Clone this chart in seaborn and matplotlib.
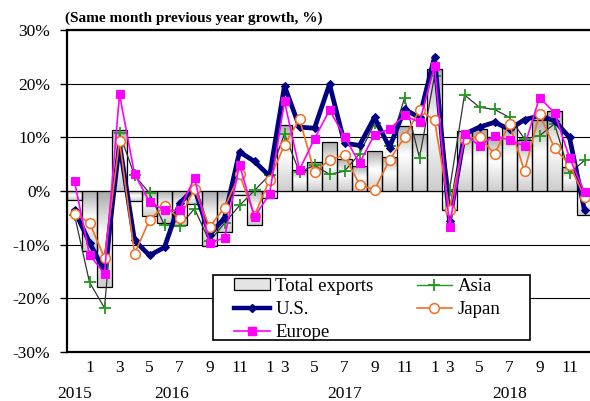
import numpy as np
import pandas as pd
import matplotlib
matplotlib.use("Agg")
import matplotlib.pyplot as plt
import matplotlib.transforms as mtransforms
from matplotlib.lines import Line2D
from matplotlib.patches import Patch, Rectangle
from matplotlib.colors import LinearSegmentedColormap
import seaborn as sns

# ---------------- data ----------------
categories = [
    "2015-12",
    "2016-01", "2016-02", "2016-03", "2016-04", "2016-05", "2016-06",
    "2016-07", "2016-08", "2016-09", "2016-10", "2016-11", "2016-12",
    "2017-01/02", "2017-03", "2017-04", "2017-05", "2017-06", "2017-07",
    "2017-08", "2017-09", "2017-10", "2017-11", "2017-12",
    "2018-01/02", "2018-03", "2018-04", "2018-05", "2018-06", "2018-07",
    "2018-08", "2018-09", "2018-10", "2018-11", "2018-12",
]
total_exports = [-1.6, -11.2, -17.8, 11.4, -1.8, -4.6, -6.0, -6.4, -2.5, -10.2, -7.6, -0.8,
                 -6.4, -1.3, 12.3, 4.0, 5.4, 9.1, 6.0, 4.6, 7.4, 6.3, 12.2, 10.6,
                 22.8, -3.5, 11.2, 11.5, 10.1, 11.9, 9.5, 13.2, 14.9, 4.4, -4.5]
asia = [-4.5, -17.0, -21.8, 10.8, 2.9, -0.4, -6.4, -6.5, -3.3, -9.4, -6.0, -2.7,
        0.1, 3.0, 10.6, 3.5, 4.8, 3.1, 3.7, 6.9, 12.6, 8.3, 17.3, 6.2,
        21.4, 0.2, 17.9, 15.6, 15.2, 13.7, 9.7, 10.3, 12.5, 3.3, 5.7]
us = [-3.6, -9.6, -15.0, 8.8, -9.2, -12.0, -10.5, -2.3, 0.5, -8.2, -5.0, 7.3,
      5.5, 2.8, 19.6, 11.9, 11.7, 19.9, 8.9, 8.5, 13.7, 8.1, 15.2, 13.7,
      25.0, -5.6, 10.6, 11.9, 12.8, 11.5, 13.3, 14.0, 13.1, 10.0, -3.6]
japan = [-4.2, -5.9, -12.5, 9.4, -11.7, -5.4, -2.8, -5.1, 0.4, -6.7, -3.1, 3.1,
         -4.6, 2.1, 8.6, 13.4, 3.5, 5.8, 6.7, 1.2, 0.2, 5.8, 10.0, 15.1,
         13.2, -3.5, 9.7, 10.1, 6.9, 12.5, 3.7, 14.4, 8.0, 4.9, -1.1]
europe = [1.8, -11.9, -15.4, 18.0, 3.2, -2.0, -3.6, -3.6, 2.5, -9.6, -8.8, 4.9,
          -4.8, -0.6, 16.7, 4.0, 9.7, 15.1, 10.1, 5.2, 10.5, 11.5, 14.1, 12.8,
          23.3, -6.7, 10.6, 8.4, 10.3, 9.5, 8.4, 17.4, 14.6, 6.2, -0.2]

tick_categories = ["2016-01", "2016-03", "2016-05", "2016-07", "2016-09", "2016-11",
                   "2017-01/02", "2017-03", "2017-05", "2017-07", "2017-09", "2017-11",
                   "2018-01/02", "2018-03", "2018-05", "2018-07", "2018-09", "2018-11"]
tick_labels = ["1", "3", "5", "7", "9", "11",
               "1", "3", "5", "7", "9", "11",
               "1", "3", "5", "7", "9", "11"]
years = ["2015", "2016", "2017", "2018"]
y_ticks = [-30, -20, -10, 0, 10, 20, 30]

# ---------------- style ----------------
plt.rcParams['font.family'] = ['Liberation Serif', 'DejaVu Serif']

fig = plt.figure(figsize=(5.90, 4.01), dpi=100)
ax = fig.add_axes([67 / 590, 49 / 401, 525 / 590, 322 / 401])

df = pd.DataFrame({"period": categories, "total": total_exports})
sns.barplot(data=df, x="period", y="total", order=categories, color="#dddddd",
            width=1.0, edgecolor="black", linewidth=0.9, ax=ax, zorder=2)

# gradient fill of the bars
grad = np.linspace(0, 1, 128).reshape(-1, 1)
gcmap = LinearSegmentedColormap.from_list(
    "bargrad", [(0.0, "#ababab"), (0.45, "#ffffff"), (1.0, "#cdcdcd")])
for p in list(ax.patches):
    x0, y0 = p.get_x(), p.get_y()
    w, h = p.get_width(), p.get_height()
    ylo, yhi = min(y0, y0 + h), max(y0, y0 + h)
    im = ax.imshow(grad, cmap=gcmap, extent=[x0, x0 + w, ylo, yhi], origin="upper",
                   aspect="auto", zorder=2.1, interpolation="bilinear")
    im.set_clip_path(p)
    p.set_facecolor("none")
    p.set_zorder(2.2)

xs = np.arange(len(categories))
sns.lineplot(x=xs, y=asia, color="#333333", linewidth=0.9, marker="+", markersize=8,
             markeredgecolor="#1f9a1f", markeredgewidth=1.3, ax=ax, zorder=3)
sns.lineplot(x=xs, y=us, color="#000080", linewidth=3.4, marker="D", markersize=4,
             markeredgecolor="#000080", markerfacecolor="#000080", ax=ax, zorder=4)
sns.lineplot(x=xs, y=japan, color="#f07020", linewidth=1.2, marker="o", markersize=7,
             markeredgecolor="#f07020", markerfacecolor="white", markeredgewidth=1.1,
             ax=ax, zorder=5)
sns.lineplot(x=xs, y=europe, color="#ff00ff", linewidth=1.2, marker="s", markersize=6,
             markeredgecolor="#ff00ff", markerfacecolor="#ff00ff", ax=ax, zorder=6)

ax.set_xlim(-0.5, len(categories) - 0.5)
ax.set_ylim(-30, 30)
ax.set_xlabel("")
ax.set_ylabel("")

# grid and spines
ax.set_axisbelow(True)
ax.yaxis.grid(True, color="black", linewidth=0.8)
ax.xaxis.grid(False)
for side in ["top", "left", "bottom"]:
    ax.spines[side].set_visible(True)
    ax.spines[side].set_color("black")
    ax.spines[side].set_linewidth(1.6)
ax.spines["right"].set_visible(False)
ax.set_facecolor("white")

# ticks
tick_pos = [categories.index(c) for c in tick_categories]
ax.set_xticks(tick_pos)
ax.set_xticklabels(tick_labels)
ax.tick_params(axis="x", length=0, pad=6, labelsize=12.5, bottom=False)
ax.set_yticks(y_ticks)
ax.set_yticklabels([f"{v}%" for v in y_ticks])
ax.tick_params(axis="y", left=True, length=5, width=1.0, direction="out", pad=7,
               labelsize=12.5, color="black")

# year labels
trans = mtransforms.blended_transform_factory(ax.transData, ax.transAxes)
for yr in years:
    idx = [i for i, c in enumerate(categories) if c.startswith(yr)]
    ax.text(np.mean(idx), -0.13, yr, transform=trans, ha="center", va="center",
            fontsize=12.5)

# title
fig.text(65 / 590, 1 - 18 / 401, "(Same month previous year growth, %)",
         ha="left", va="center", fontsize=11, fontweight="bold")

# legend frame (drawn separately) + legend entries
ax.add_patch(Rectangle((146 / 525, 12 / 322), 317 / 525, 65 / 322,
                       transform=ax.transAxes, facecolor="white", edgecolor="black",
                       linewidth=1.2, zorder=9))
handles = [
    Patch(facecolor="#e4e4e4", edgecolor="black", linewidth=0.9, label="Total exports"),
    Line2D([], [], color="#000080", lw=3.2, marker="D", ms=4, label="U.S."),
    Line2D([], [], color="#ff00ff", lw=1.2, marker="s", ms=6, label="Europe"),
    Line2D([], [], color="#1f9a1f", lw=1.0, marker="+", ms=8, mew=1.3, label="Asia"),
    Line2D([], [], color="#f07020", lw=1.2, marker="o", ms=7, mfc="white",
           mew=1.1, label="Japan"),
]
leg = ax.legend(handles=handles, ncol=2, loc="upper left",
                bbox_to_anchor=(167 / 525, 74 / 322),
                frameon=False, fontsize=13.5, handlelength=1.9, handleheight=0.6,
                handletextpad=0.3, borderpad=0, labelspacing=0.32,
                columnspacing=2.3, borderaxespad=0)
leg.set_zorder(10)

fig.savefig("out.png", dpi=100)
